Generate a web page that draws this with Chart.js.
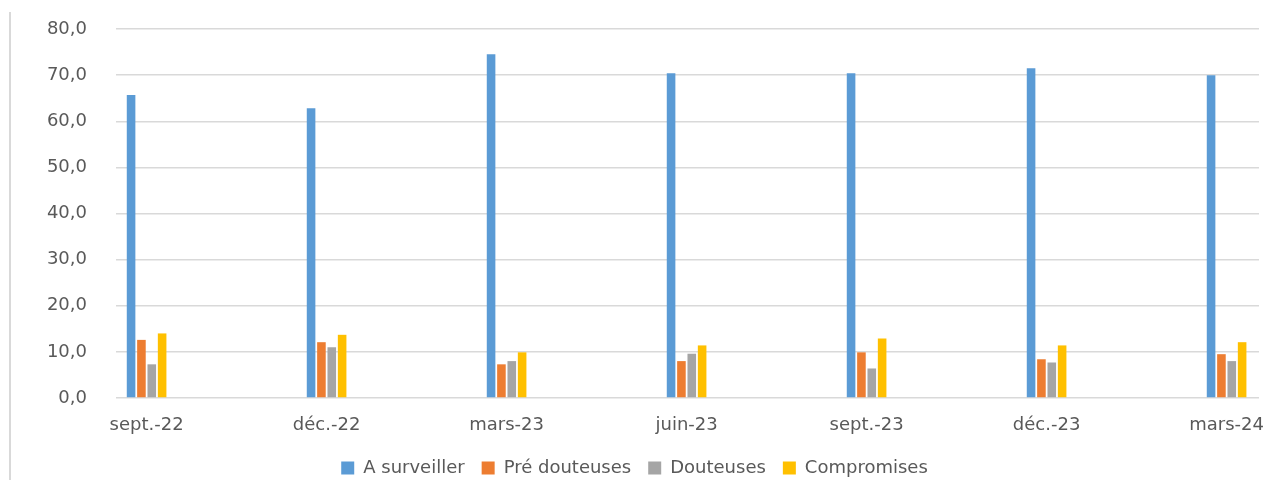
<!DOCTYPE html>
<html>
<head>
<meta charset="utf-8">
<script src="https://cdn.jsdelivr.net/npm/chart.js@4.4.1/dist/chart.umd.min.js"></script>
<style>
  html, body { margin: 0; padding: 0; background: #fff; }
  #wrap { position: relative; width: 1287px; height: 480px; }
  #frame { position: absolute; left: 9px; top: 12px; bottom: 0; border-left: 2px solid #d9d9d9; }
  #chart { position: absolute; left: 0; top: 0; }
</style>
</head>
<body>
<div id="wrap">
  <div id="frame"></div>
  <canvas id="chart" width="1287" height="480"></canvas>
</div>
<script>
const categories = ["sept.-22", "déc.-22", "mars-23", "juin-23", "sept.-23", "déc.-23", "mars-24"];
const seriesNames = ["A surveiller", "Pré douteuses", "Douteuses", "Compromises"];
const aSurveiller = [65.7, 62.8, 74.5, 70.4, 70.4, 71.5, 70.0];
const preDouteuses = [12.6, 12.1, 7.3, 8.0, 9.9, 8.4, 9.5];
const douteuses = [7.3, 11.0, 8.0, 9.6, 6.4, 7.7, 8.0];
const compromises = [14.0, 13.7, 9.9, 11.4, 12.9, 11.4, 12.1];
const colors = ["#5B9BD5", "#ED7D31", "#A5A5A5", "#FFC000"];

Chart.defaults.font.family = "'DejaVu Sans', sans-serif";
Chart.defaults.font.size = 18;
Chart.defaults.color = "#595959";

// bars sit on a linear x so the groups can start a bit inside the plot edges
let toPoints = (values) => values.map((v, i) => ({ x: i, y: v }));

let datasets = [aSurveiller, preDouteuses, douteuses, compromises].map((values, i) => ({
  label: seriesNames[i],
  data: toPoints(values),
  backgroundColor: colors[i],
  borderWidth: 0,
  categoryPercentage: 0.23,
  barPercentage: 0.83
}));

new Chart(document.getElementById("chart"), {
  type: "bar",
  data: { datasets: datasets },
  options: {
    responsive: false,
    animation: false,
    layout: { padding: { left: 10, right: 28, top: 29, bottom: -7 } },
    plugins: {
      tooltip: { enabled: false },
      legend: {
        position: "bottom",
        labels: { boxWidth: 13, boxHeight: 13, padding: 17 }
      }
    },
    scales: {
      x: {
        type: "linear",
        offset: false,
        min: -0.17,
        max: 6.18,
        grid: { display: false },
        border: { display: false },
        ticks: {
          stepSize: 1,
          includeBounds: false,
          autoSkip: false,
          maxRotation: 0,
          padding: 9,
          callback: (v) => categories[v] ?? ""
        },
        afterFit: (scale) => { scale.height = 44; }
      },
      y: {
        min: 0,
        max: 80,
        grid: { color: "#d9d9d9", lineWidth: 1.5, drawTicks: false },
        border: { display: false },
        ticks: {
          stepSize: 10,
          padding: 29,
          callback: (v) => v.toFixed(1).replace(".", ",")
        },
        afterFit: (scale) => {
          scale.width = 106;
          scale.paddingTop = 0;
          scale.paddingBottom = 0;
        }
      }
    }
  }
});
</script>
</body>
</html>
